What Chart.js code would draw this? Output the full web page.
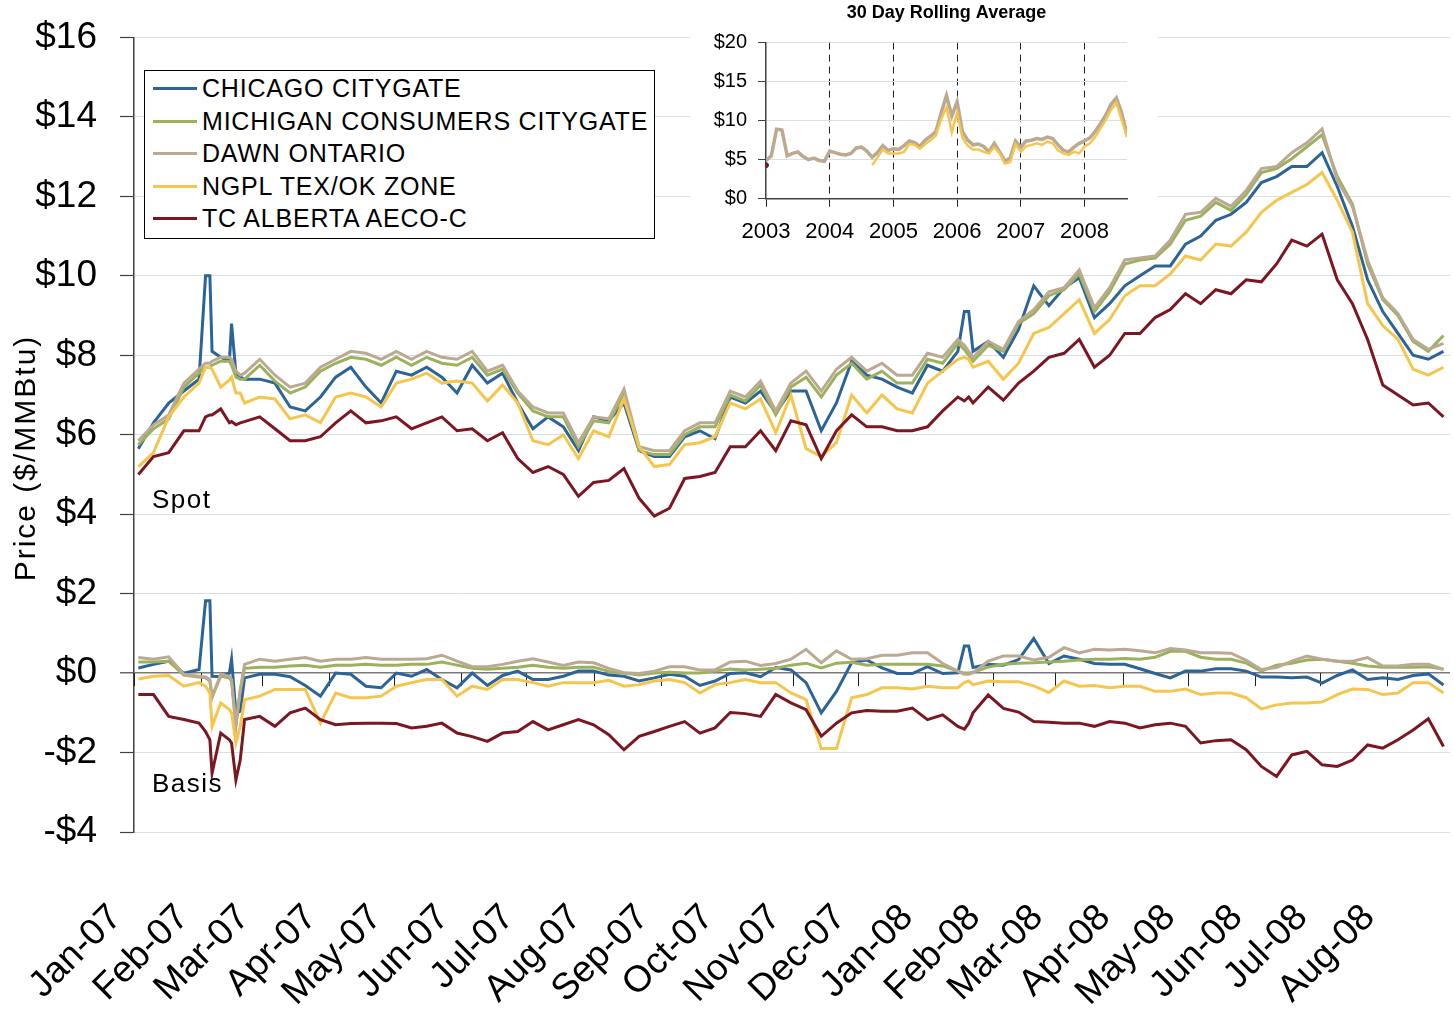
<!DOCTYPE html>
<html>
<head>
<meta charset="utf-8">
<title>Spot and basis prices</title>
<script src="https://cdn.jsdelivr.net/npm/chart.js@4.4.1/dist/chart.umd.min.js"></script>
<style>
  html, body { margin: 0; padding: 0; background: #fff; }
  #wrap { position: relative; width: 1454px; height: 1013px; overflow: hidden; }
  #main { position: absolute; left: 0; top: 0; }
  #inset { position: absolute; left: 690px; top: 0; }
  #legend {
    position: absolute; left: 144px; top: 70px; width: 509px; height: 167px;
    border: 1px solid #000; background: #fff;
    font-family: 'Liberation Sans', Arial, sans-serif; font-size: 25px; letter-spacing: 0.8px; color: #000;
  }
  #legend .row { position: absolute; left: 0; height: 26px; width: 100%; }
  #legend .swatch { position: absolute; left: 8px; top: 12px; width: 44px; height: 3px; }
  #legend .text { position: absolute; left: 57px; top: 0; line-height: 26px; white-space: nowrap; }
</style>
</head>
<body>
<div id="wrap">
  <canvas id="main" width="1454" height="1013"></canvas>
  <canvas id="inset" width="468" height="250"></canvas>
  <div id="legend"></div>
</div>
<script>
// ---- data -------------------------------------------------------------
// sample dates, in days since 1 Jan 2007
const sampleDays = [2, 9, 16, 23, 30, 33, 35, 36, 40, 44, 45, 47, 49, 51, 58, 65, 72, 79, 86, 93,
  100, 107, 114, 121, 128, 135, 142, 149, 156, 163, 170, 177, 184, 191, 198, 205, 212, 219, 226, 233,
  240, 247, 254, 261, 268, 275, 282, 289, 296, 303, 310, 317, 324, 331, 338, 345, 352, 359, 366, 373,
  380, 383, 385, 387, 394, 401, 408, 415, 422, 429, 436, 443, 450, 457, 464, 471, 478, 485, 492, 499,
  506, 513, 520, 527, 534, 541, 548, 555, 562, 569, 576, 583, 590, 597, 604];

const monthLabels = ['Jan-07', 'Feb-07', 'Mar-07', 'Apr-07', 'May-07', 'Jun-07', 'Jul-07', 'Aug-07', 'Sep-07', 'Oct-07',
  'Nov-07', 'Dec-07', 'Jan-08', 'Feb-08', 'Mar-08', 'Apr-08', 'May-08', 'Jun-08', 'Jul-08', 'Aug-08'];
const monthStartDays = [0, 31, 59, 90, 120, 151, 181, 212, 243, 273, 304, 334, 365, 396, 425, 456, 486, 517, 547, 578];

// spot prices, $/MMBtu
const spotChicago = [5.65, 6.3, 6.8, 7.1, 7.4, 10.0, 10.0, 8.1, 7.95, 7.85, 8.8, 7.55, 7.45, 7.4, 7.4, 7.3, 6.7, 6.6, 6.95, 7.45,
  7.7, 7.2, 6.8, 7.6, 7.5, 7.7, 7.45, 7.05, 7.75, 7.3, 7.55, 6.8, 6.15, 6.45, 6.2, 5.6, 6.45, 6.35, 6.8, 5.6,
  5.45, 5.45, 5.95, 6.1, 5.9, 6.95, 6.8, 7.1, 6.55, 7.1, 7.1, 6.1, 6.8, 7.85, 7.5, 7.4, 7.2, 7.05, 7.75, 7.6,
  8.1, 9.1, 9.1, 8.1, 8.35, 7.95, 8.65, 9.75, 9.25, 9.7, 9.95, 8.95, 9.3, 9.75, 10.0, 10.25, 10.25, 10.8, 11.0, 11.4,
  11.55, 11.85, 12.35, 12.5, 12.75, 12.75, 13.1, 12.25, 11.25, 9.9, 9.1, 8.55, 8.0, 7.9, 8.1];
const spotMichigan = [5.75, 6.15, 6.4, 7.2, 7.55, 7.7, 7.7, 7.75, 7.85, 7.85, 7.75, 7.45, 7.4, 7.4, 7.75, 7.35, 7.05, 7.2, 7.6, 7.8,
  7.95, 7.9, 7.75, 7.95, 7.75, 7.95, 7.8, 7.75, 7.95, 7.5, 7.65, 7.05, 6.6, 6.45, 6.45, 5.7, 6.35, 6.3, 7.05, 5.6,
  5.5, 5.5, 6.0, 6.2, 6.2, 7.0, 6.85, 7.25, 6.5, 7.2, 7.45, 6.95, 7.5, 7.8, 7.4, 7.6, 7.3, 7.3, 7.9, 7.8,
  8.3, 8.15, 8.0, 7.85, 8.25, 8.1, 8.8, 9.05, 9.5, 9.65, 10.05, 9.1, 9.6, 10.3, 10.4, 10.45, 10.8, 11.4, 11.5, 11.85,
  11.65, 12.05, 12.6, 12.7, 12.95, 13.25, 13.55, 12.5, 11.8, 10.3, 9.4, 9.0, 8.35, 8.1, 8.5];
const spotDawn = [5.85, 6.25, 6.5, 7.3, 7.65, 7.8, 7.8, 7.85, 7.95, 7.95, 7.9, 7.6, 7.5, 7.55, 7.9, 7.5, 7.2, 7.3, 7.7, 7.9,
  8.1, 8.05, 7.9, 8.1, 7.9, 8.1, 7.95, 7.9, 8.1, 7.6, 7.75, 7.1, 6.7, 6.55, 6.55, 5.8, 6.45, 6.4, 7.15, 5.7,
  5.6, 5.6, 6.1, 6.3, 6.3, 7.1, 6.95, 7.35, 6.6, 7.3, 7.6, 7.1, 7.65, 7.95, 7.6, 7.8, 7.5, 7.5, 8.05, 7.95,
  8.4, 8.25, 8.1, 7.95, 8.35, 8.15, 8.85, 9.15, 9.6, 9.7, 10.15, 9.2, 9.7, 10.4, 10.45, 10.5, 10.9, 11.55, 11.6, 11.95,
  11.75, 12.15, 12.7, 12.75, 13.1, 13.35, 13.7, 12.4, 11.75, 10.4, 9.45, 9.05, 8.4, 8.15, 8.3];
const spotNgpl = [5.2, 5.55, 6.45, 6.95, 7.3, 7.7, 7.7, 7.65, 7.2, 7.38, 7.45, 7.05, 7.05, 6.8, 6.95, 6.9, 6.4, 6.5, 6.3, 6.95,
  7.05, 6.95, 6.7, 7.3, 7.4, 7.55, 7.3, 7.35, 7.3, 6.85, 7.25, 6.8, 5.85, 5.75, 6.0, 5.4, 6.1, 5.95, 6.9, 5.7,
  5.2, 5.25, 5.75, 5.8, 5.95, 6.8, 6.65, 6.9, 6.05, 7.0, 5.65, 5.45, 5.8, 7.0, 6.55, 7.0, 6.65, 6.55, 7.3, 7.6,
  7.9, 7.95, 7.9, 7.7, 7.85, 7.4, 7.8, 8.55, 8.7, 9.05, 9.4, 8.55, 8.9, 9.5, 9.75, 9.75, 10.05, 10.5, 10.4, 10.8,
  10.75, 11.1, 11.6, 11.9, 12.1, 12.3, 12.6, 11.9, 11.1, 9.3, 8.75, 8.4, 7.65, 7.5, 7.7];
const spotAeco = [5.0, 5.45, 5.55, 6.1, 6.1, 6.45, 6.5, 6.5, 6.65, 6.3, 6.33, 6.25, 6.3, 6.33, 6.45, 6.15, 5.85, 5.85, 5.95, 6.3,
  6.6, 6.3, 6.35, 6.45, 6.15, 6.3, 6.45, 6.1, 6.15, 5.85, 6.05, 5.4, 5.05, 5.2, 5.0, 4.45, 4.8, 4.85, 5.15, 4.4,
  3.95, 4.15, 4.9, 4.95, 5.05, 5.7, 5.7, 6.1, 5.6, 6.35, 6.25, 5.4, 6.1, 6.5, 6.2, 6.2, 6.1, 6.1, 6.2, 6.6,
  6.95, 6.85, 6.95, 6.8, 7.2, 6.87, 7.3, 7.6, 7.95, 8.05, 8.4, 7.7, 8.0, 8.55, 8.55, 8.95, 9.15, 9.55, 9.3, 9.65,
  9.55, 9.9, 9.85, 10.3, 10.9, 10.75, 11.05, 9.9, 9.3, 8.4, 7.25, 7.0, 6.75, 6.8, 6.45];

// basis to Henry Hub, $/MMBtu
const basisChicago = [0.13, 0.22, 0.3, 0.0, 0.09, 1.82, 1.82, -0.08, -0.09, 0.0, 0.35, -1.0, -0.96, -0.12, -0.03, -0.03, -0.09, -0.31, -0.58, 0.0,
  -0.03, -0.33, -0.37, 0.0, -0.08, 0.09, -0.16, -0.37, 0.0, -0.31, -0.06, 0.05, -0.16, -0.16, -0.08, 0.05, 0.05, -0.05, -0.08, -0.2,
  -0.12, -0.03, -0.08, -0.31, -0.2, -0.01, 0.01, -0.09, 0.14, 0.08, -0.24, -1.0, -0.46, 0.26, 0.33, 0.13, -0.01, -0.01, 0.16, -0.01,
  0.01, 0.68, 0.68, 0.14, 0.22, 0.2, 0.34, 0.87, 0.24, 0.43, 0.35, 0.24, 0.22, 0.22, 0.11, -0.01, -0.12, 0.05, 0.05, 0.11,
  0.11, 0.05, -0.1, -0.1, -0.12, -0.1, -0.25, -0.06, 0.08, -0.16, -0.12, -0.16, -0.06, -0.02, -0.3];
const basisMichigan = [0.28, 0.28, 0.3, -0.05, -0.1, -0.12, -0.2, -0.6, -0.08, -0.12, -0.2, -1.3, -0.45, 0.12, 0.15, 0.15, 0.18, 0.2, 0.15, 0.2,
  0.2, 0.22, 0.2, 0.2, 0.22, 0.22, 0.28, 0.2, 0.12, 0.1, 0.12, 0.15, 0.2, 0.15, 0.12, 0.15, 0.15, 0.04, 0.0, -0.05,
  0.0, 0.02, 0.0, 0.0, 0.05, 0.1, 0.08, 0.1, 0.12, 0.2, 0.25, 0.13, 0.25, 0.27, 0.2, 0.22, 0.22, 0.22, 0.22, 0.18,
  0.05, 0.0, 0.0, 0.02, 0.15, 0.22, 0.25, 0.26, 0.28, 0.3, 0.33, 0.35, 0.35, 0.37, 0.35, 0.4, 0.55, 0.55, 0.4, 0.35,
  0.35, 0.25, 0.05, 0.2, 0.25, 0.33, 0.35, 0.3, 0.25, 0.18, 0.15, 0.15, 0.15, 0.16, 0.1];
const basisDawn = [0.39, 0.35, 0.41, -0.03, -0.08, -0.1, -0.16, -0.62, -0.03, -0.08, -0.16, -1.34, -0.41, 0.22, 0.35, 0.3, 0.35, 0.39, 0.3, 0.35,
  0.35, 0.39, 0.35, 0.35, 0.35, 0.36, 0.45, 0.3, 0.16, 0.16, 0.22, 0.3, 0.36, 0.28, 0.19, 0.28, 0.26, 0.12, 0.01, -0.01,
  0.05, 0.16, 0.16, 0.08, 0.08, 0.28, 0.3, 0.19, 0.24, 0.35, 0.6, 0.26, 0.56, 0.35, 0.36, 0.45, 0.45, 0.51, 0.51, 0.24,
  0.05, -0.03, -0.03, 0.01, 0.3, 0.43, 0.43, 0.33, 0.4, 0.64, 0.51, 0.6, 0.58, 0.6, 0.56, 0.51, 0.62, 0.58, 0.51, 0.51,
  0.5, 0.32, 0.09, 0.14, 0.3, 0.43, 0.35, 0.3, 0.3, 0.39, 0.18, 0.18, 0.22, 0.22, 0.09];
const basisNgpl = [-0.15, -0.08, -0.06, -0.33, -0.24, -0.33, -0.5, -1.34, -0.75, -0.92, -1.0, -1.76, -1.34, -0.67, -0.58, -0.41, -0.41, -0.41, -1.26, -0.5,
  -0.62, -0.62, -0.58, -0.33, -0.24, -0.16, -0.16, -0.58, -0.33, -0.41, -0.16, -0.16, -0.24, -0.33, -0.24, -0.24, -0.24, -0.18, -0.33, -0.29,
  -0.2, -0.16, -0.24, -0.5, -0.29, -0.24, -0.16, -0.24, -0.24, -0.5, -0.67, -1.9, -1.9, -0.62, -0.54, -0.37, -0.37, -0.4, -0.33, -0.37,
  -0.37, -0.24, -0.2, -0.29, -0.2, -0.22, -0.22, -0.32, -0.49, -0.2, -0.33, -0.31, -0.37, -0.33, -0.33, -0.46, -0.46, -0.4, -0.54, -0.5,
  -0.5, -0.62, -0.9, -0.8, -0.75, -0.75, -0.73, -0.54, -0.4, -0.41, -0.54, -0.5, -0.24, -0.24, -0.5];
const basisAeco = [-0.54, -0.54, -1.09, -1.17, -1.26, -1.47, -1.68, -2.52, -1.51, -1.68, -1.76, -2.69, -2.19, -1.17, -1.09, -1.34, -1.0, -0.88, -1.17, -1.3,
  -1.27, -1.26, -1.26, -1.27, -1.38, -1.34, -1.26, -1.51, -1.6, -1.72, -1.51, -1.47, -1.22, -1.43, -1.3, -1.17, -1.3, -1.55, -1.93, -1.59,
  -1.47, -1.34, -1.22, -1.51, -1.38, -0.99, -1.02, -1.09, -0.54, -0.75, -0.92, -1.59, -1.26, -1.0, -0.94, -0.96, -0.96, -0.88, -1.17, -1.05,
  -1.34, -1.41, -1.26, -1.0, -0.55, -0.89, -0.98, -1.22, -1.24, -1.26, -1.26, -1.34, -1.22, -1.26, -1.38, -1.3, -1.26, -1.34, -1.76, -1.7,
  -1.68, -1.93, -2.35, -2.6, -2.06, -1.97, -2.31, -2.35, -2.19, -1.81, -1.89, -1.68, -1.43, -1.15, -1.85];

// inset: 30 day rolling average, one value per month from Jan 2003
const insetStartYear = 2003;
const insetYears = [2003, 2004, 2005, 2006, 2007, 2008];
const insetDawn = [4.9, 5.5, 8.9, 8.8, 5.5, 5.8, 6.0, 5.4, 5.0, 5.2, 4.9, 4.8,
  6.1, 5.9, 5.7, 5.6, 5.8, 6.5, 6.6, 6.1, 5.3, 5.9, 6.8, 6.2,
  6.4, 6.3, 6.8, 7.4, 7.2, 6.7, 7.5, 8.0, 8.6, 11.0, 13.2, 10.6,
  12.4, 8.6, 7.5, 6.9, 7.0, 6.7, 6.0, 7.1, 6.0, 4.8, 5.2, 7.4,
  6.6, 7.4, 7.5, 7.7, 7.6, 7.9, 7.7, 6.9, 6.2, 6.0, 6.6, 7.1,
  7.4, 7.8, 8.6, 9.6, 10.7, 12.1, 12.9, 11.0, 8.2];
const insetNgpl = [null, null, null, null, null, null, null, null, null, null, null, null,
  null, null, null, null, null, null, null, null, 4.3, 5.3, 6.3, 5.8,
  5.8, 5.8, 6.0, 7.0, 6.9, 6.4, 7.0, 7.5, 8.1, 10.2, 11.7, 8.5,
  11.0, 7.8, 6.8, 6.3, 6.3, 6.0, 5.8, 6.6, 5.8, 4.5, 4.7, 7.0,
  6.0, 6.7, 6.9, 7.1, 6.9, 7.3, 7.1, 6.2, 5.8, 5.6, 6.0, 5.8,
  6.7, 7.1, 7.9, 9.0, 10.1, 11.4, 12.3, 10.1, 7.9];
const insetAeco = [4.3];

// ---- style ------------------------------------------------------------
const FONT = "'Liberation Sans', Arial, sans-serif";
Chart.defaults.font.family = FONT;
Chart.defaults.color = '#000';

const colors = {
  chicago: '#2c6497',
  michigan: '#9bb15c',
  dawn: '#bba992',
  ngpl: '#f5c64e',
  aeco: '#7c1621',
  grid: '#d6e1e4',
  axis: '#404040'
};

const series = [
  { name: 'CHICAGO CITYGATE', color: colors.chicago, spot: spotChicago, basis: basisChicago, order: 5 },
  { name: 'MICHIGAN CONSUMERS CITYGATE', color: colors.michigan, spot: spotMichigan, basis: basisMichigan, order: 4 },
  { name: 'DAWN ONTARIO', color: colors.dawn, spot: spotDawn, basis: basisDawn, order: 3 },
  { name: 'NGPL TEX/OK ZONE', color: colors.ngpl, spot: spotNgpl, basis: basisNgpl, order: 2 },
  { name: 'TC ALBERTA AECO-C', color: colors.aeco, spot: spotAeco, basis: basisAeco, order: 1 }
];

const toPoints = values => sampleDays.map((d, i) => ({ x: d, y: values[i] }));

const datasets = [];
series.forEach(s => {
  datasets.push({ label: s.name, panel: 'spot', data: toPoints(s.spot), borderColor: s.color, order: s.order });
  datasets.push({ label: s.name + ' basis', panel: 'basis', data: toPoints(s.basis), borderColor: s.color, order: s.order });
});

// month tick marks hanging from the $0 line
const zeroTicks = {
  id: 'zeroTicks',
  beforeDatasetsDraw(chart) {
    const { ctx, scales: { x, y } } = chart;
    const y0 = y.getPixelForValue(0);
    ctx.save();
    ctx.strokeStyle = '#222';
    ctx.lineWidth = 1;
    monthStartDays.forEach(d => {
      const px = Math.round(x.getPixelForValue(d)) + 0.5;
      ctx.beginPath();
      ctx.moveTo(px, y0);
      ctx.lineTo(px, y0 + 13);
      ctx.stroke();
    });
    ctx.restore();
  }
};

// axis title and panel notes
const freeText = {
  id: 'freeText',
  afterDatasetsDraw(chart) {
    const { ctx } = chart;
    ctx.save();
    ctx.fillStyle = '#000';
    ctx.font = '30px ' + FONT;
    ctx.letterSpacing = '2px';
    ctx.translate(27, 458);
    ctx.rotate(-Math.PI / 2);
    ctx.textAlign = 'center';
    ctx.textBaseline = 'middle';
    ctx.fillText('Price ($/MMBtu)', 0, 0);
    ctx.restore();

    ctx.save();
    ctx.fillStyle = '#000';
    ctx.font = '26px ' + FONT;
    ctx.letterSpacing = '1.5px';
    ctx.textAlign = 'left';
    ctx.textBaseline = 'alphabetic';
    ctx.fillText('Spot', 152, 508);
    ctx.fillText('Basis', 152, 792);
    ctx.restore();
  }
};

const mainChart = new Chart(document.getElementById('main'), {
  type: 'line',
  data: { datasets },
  options: {
    responsive: false,
    animation: false,
    layout: { padding: { top: 37.5, right: 4, bottom: 0, left: 0 } },
    elements: { point: { radius: 0 }, line: { borderWidth: 3, tension: 0 } },
    plugins: { legend: { display: false }, tooltip: { enabled: false } },
    scales: {
      x: {
        type: 'linear',
        min: 0,
        max: 607,
        grid: { display: false, drawTicks: false },
        border: { display: false },
        afterBuildTicks: s => { s.ticks = monthStartDays.map(v => ({ value: v })); },
        afterFit: s => { s.height = 181; s.paddingLeft = 0; s.paddingRight = 0; },
        ticks: {
          autoSkip: false,
          minRotation: 45,
          maxRotation: 45,
          padding: 64,
          labelOffset: -18,
          font: { size: 37 },
          callback: v => monthLabels[monthStartDays.indexOf(v)]
        }
      },
      y: {
        min: -4,
        max: 16,
        afterFit: s => { s.width = 134; s.paddingTop = 0; s.paddingBottom = 0; },
        ticks: {
          stepSize: 2,
          padding: 23,
          font: { size: 37 },
          callback: v => (v < 0 ? '-$' + (-v) : '$' + v)
        },
        grid: {
          color: c => (c.tick && c.tick.value === 0 ? '#7a7a7a' : colors.grid),
          lineWidth: c => (c.tick && c.tick.value === 0 ? 1.6 : 1),
          tickLength: 14,
          tickColor: colors.axis,
          tickWidth: 1.2
        },
        border: { color: colors.axis, width: 1.5 }
      }
    }
  },
  plugins: [zeroTicks, freeText]
});

// legend box, built from the spot datasets
const legendEl = document.getElementById('legend');
mainChart.data.datasets.filter(d => d.panel === 'spot').forEach((d, i) => {
  const row = document.createElement('div');
  row.className = 'row';
  row.style.top = (4 + i * 32.6) + 'px';
  const sw = document.createElement('div');
  sw.className = 'swatch';
  sw.style.background = d.borderColor;
  const tx = document.createElement('div');
  tx.className = 'text';
  tx.textContent = d.label;
  row.appendChild(sw);
  row.appendChild(tx);
  legendEl.appendChild(row);
});

// ---- inset ------------------------------------------------------------
const whiteBg = {
  id: 'whiteBg',
  beforeDraw(chart) {
    const { ctx, width, height } = chart;
    ctx.save();
    ctx.fillStyle = '#fff';
    ctx.fillRect(0, 0, width, height);
    ctx.restore();
  }
};

const monthly = values => values.map((v, i) => ({ x: insetStartYear + i / 12, y: v }));

new Chart(document.getElementById('inset'), {
  type: 'line',
  data: {
    datasets: [
      { label: 'AECO', data: monthly(insetAeco), borderColor: colors.aeco, backgroundColor: colors.aeco, pointRadius: 2.5, order: 1 },
      { label: 'NGPL', data: monthly(insetNgpl), borderColor: colors.ngpl, borderWidth: 2.5, order: 2 },
      { label: 'DAWN', data: monthly(insetDawn), borderColor: colors.dawn, borderWidth: 3.5, order: 3 }
    ]
  },
  options: {
    responsive: false,
    animation: false,
    layout: { padding: { top: 0, right: 31, bottom: 0, left: 0 } },
    elements: { point: { radius: 0 }, line: { tension: 0 } },
    plugins: {
      legend: { display: false },
      tooltip: { enabled: false },
      title: {
        display: true,
        text: '30 Day Rolling Average',
        fullSize: false,
        color: '#000',
        font: { size: 18, weight: 'bold' },
        padding: { top: 2, bottom: 19 }
      }
    },
    scales: {
      x: {
        type: 'linear',
        min: 2003,
        max: 2008.667,
        afterBuildTicks: s => { s.ticks = insetYears.map(v => ({ value: v })); },
        afterFit: s => { s.height = 51.3; s.paddingLeft = 0; s.paddingRight = 0; },
        ticks: { autoSkip: false, maxRotation: 0, padding: 12, font: { size: 22 }, callback: v => String(v) },
        grid: {
          color: c => (c.tick && c.tick.value === insetStartYear ? 'rgba(0,0,0,0)' : '#222'),
          tickColor: '#222',
          tickLength: 8,
          lineWidth: 1
        },
        border: { color: colors.axis, width: 1.5, dash: [7, 5] }
      },
      y: {
        min: 0,
        max: 20,
        afterFit: s => { s.width = 76; s.paddingTop = 0; s.paddingBottom = 0; },
        ticks: { stepSize: 5, padding: 11, font: { size: 20 }, callback: v => '$' + v },
        grid: {
          color: c => (c.tick && c.tick.value === 0 ? 'rgba(0,0,0,0)' : colors.grid),
          tickLength: 8,
          tickColor: colors.axis
        },
        border: { color: colors.axis, width: 1.5 }
      }
    }
  },
  plugins: [whiteBg]
});
</script>
</body>
</html>
